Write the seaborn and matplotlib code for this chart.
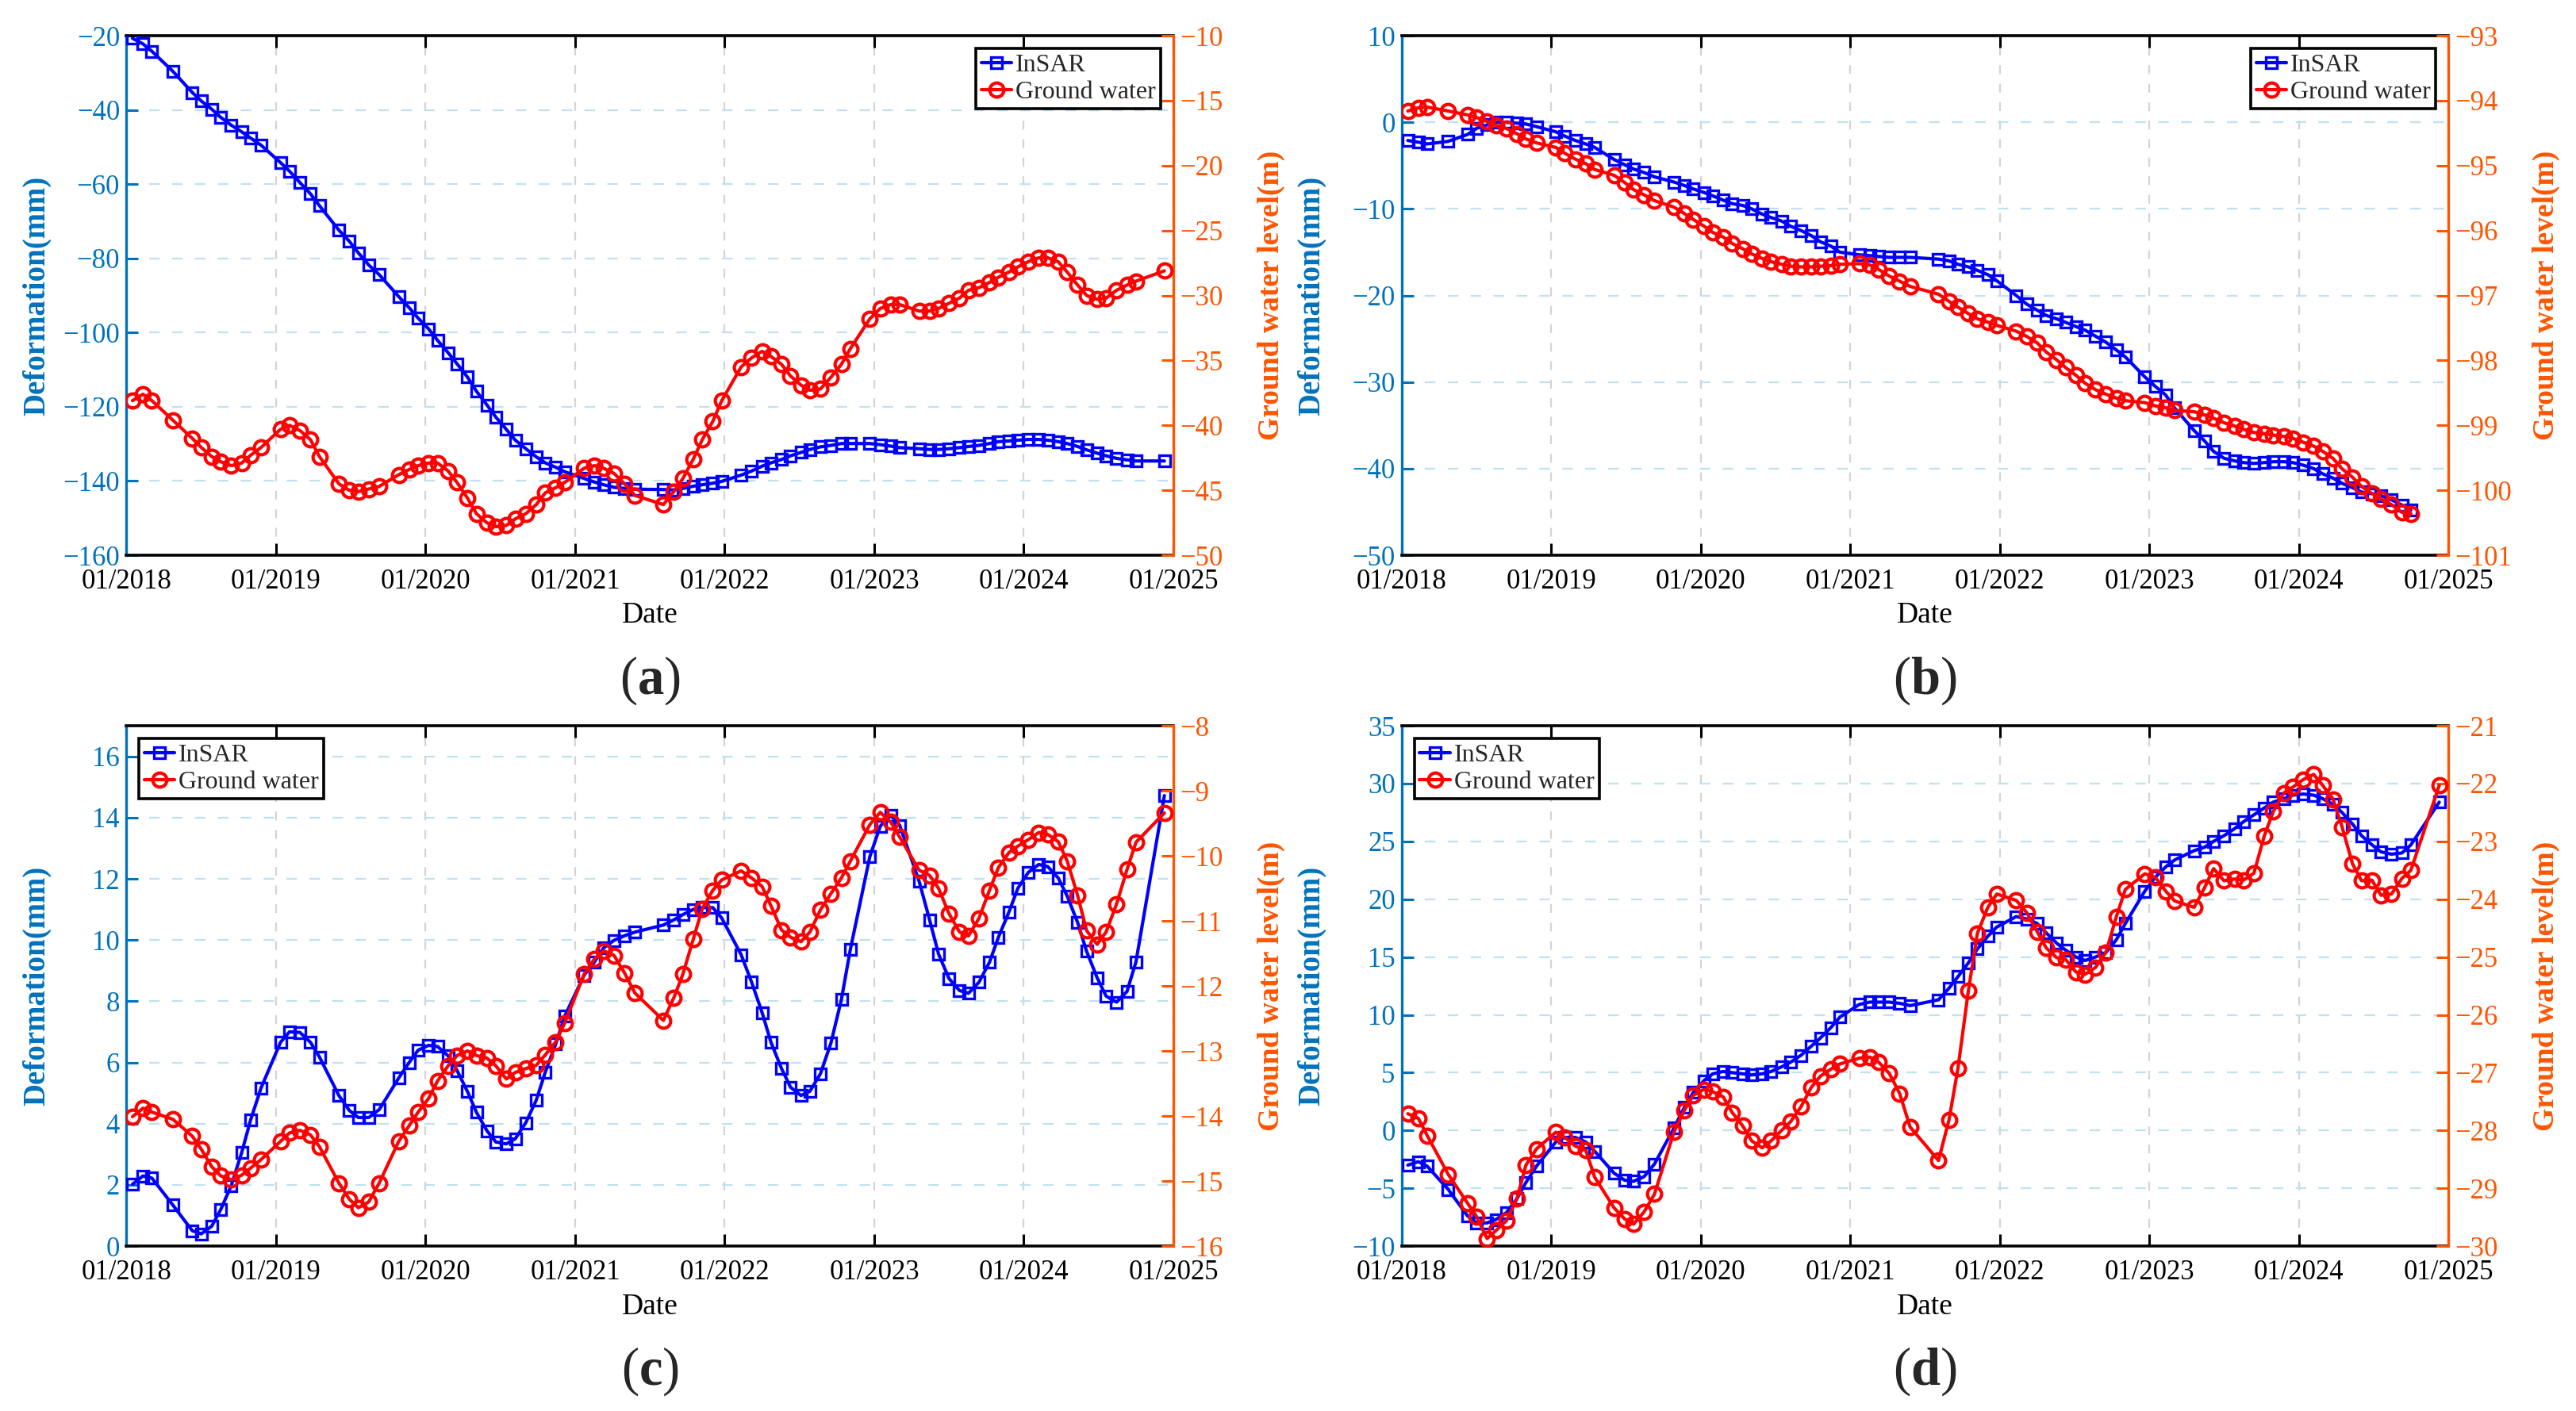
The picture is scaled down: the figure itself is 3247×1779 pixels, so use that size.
import numpy as np
import pandas as pd
import matplotlib
matplotlib.use("Agg")
import matplotlib.pyplot as plt
import seaborn as sns

# acquisition dates in decimal years (same dates for all four sites)
dec_year = [
    2018.04, 2018.11, 2018.17, 2018.31, 2018.44, 2018.50, 2018.57, 2018.63, 2018.70, 2018.77, 2018.83, 2018.90,
    2019.03, 2019.09, 2019.16, 2019.23, 2019.29, 2019.42, 2019.49, 2019.55, 2019.62, 2019.69, 2019.82, 2019.89, 2019.95,
    2020.02, 2020.08, 2020.15, 2020.21, 2020.28, 2020.34, 2020.41, 2020.47, 2020.54, 2020.60, 2020.67, 2020.74, 2020.80, 2020.87, 2020.93,
    2021.06, 2021.13, 2021.19, 2021.26, 2021.33, 2021.40, 2021.59, 2021.66, 2021.72, 2021.79, 2021.85, 2021.92, 2021.98,
    2022.11, 2022.18, 2022.25, 2022.31, 2022.38, 2022.44, 2022.51, 2022.57, 2022.64, 2022.71, 2022.78, 2022.84,
    2022.97, 2023.04, 2023.11, 2023.17, 2023.30, 2023.37, 2023.43, 2023.50, 2023.57, 2023.63, 2023.70, 2023.77, 2023.83, 2023.90, 2023.96,
    2024.03, 2024.10, 2024.16, 2024.23, 2024.29, 2024.36, 2024.42, 2024.49, 2024.55, 2024.62, 2024.69, 2024.75, 2024.94,
]

# (a)
insar_a = [
    -20.7, -22.2, -24.2, -29.6, -35.3, -37.6, -39.8, -42.0, -44.1, -45.9, -47.6, -49.5,
    -54.2, -56.5, -59.6, -62.6, -65.8, -72.4, -75.4, -78.5, -81.8, -84.4, -90.3, -93.3, -96.1,
    -99.0, -102.1, -105.4, -108.4, -112.0, -115.8, -119.5, -122.8, -126.1, -129.0, -131.3, -133.5, -135.1, -136.3, -137.5,
    -139.3, -140.3, -141.0, -141.7, -142.0, -142.2, -142.3, -142.4, -142.0, -141.4, -141.0, -140.6, -140.1,
    -138.4, -137.3, -136.0, -135.1, -134.2, -133.2, -132.3, -131.5, -130.8, -130.4, -129.9, -129.9,
    -129.9, -130.2, -130.6, -131.0, -131.3, -131.5, -131.5, -131.3, -131.0, -130.7, -130.4, -129.9, -129.4, -129.2, -129.0,
    -128.8, -128.8, -129.0, -129.4, -129.9, -130.7, -131.6, -132.5, -133.2, -133.9, -134.3, -134.6, -134.6,
]
gw_a = [
    -38.1, -37.6, -38.1, -39.6, -41.0, -41.7, -42.4, -42.8, -43.1, -42.9, -42.3, -41.7,
    -40.3, -40.0, -40.4, -41.1, -42.4, -44.5, -45.0, -45.1, -44.9, -44.7, -43.8, -43.4, -43.1,
    -42.9, -42.9, -43.5, -44.4, -45.6, -46.8, -47.5, -47.8, -47.7, -47.2, -46.8, -46.1, -45.2, -44.8, -44.4,
    -43.3, -43.1, -43.3, -43.7, -44.5, -45.4, -46.1, -45.1, -44.1, -42.6, -41.1, -39.7, -38.1,
    -35.5, -34.8, -34.3, -34.7, -35.3, -36.2, -36.9, -37.3, -37.2, -36.3, -35.3, -34.1,
    -31.8, -31.0, -30.7, -30.7, -31.2, -31.2, -31.0, -30.6, -30.2, -29.6, -29.4, -29.0, -28.6, -28.2, -27.8,
    -27.4, -27.1, -27.1, -27.4, -28.2, -29.2, -30.0, -30.3, -30.2, -29.6, -29.2, -28.9, -28.1,
]

# (b)
insar_b = [
    -2.1, -2.3, -2.5, -2.2, -1.4, -0.7, -0.3, 0.0, 0.0, -0.1, -0.2, -0.5,
    -1.1, -1.6, -2.1, -2.5, -2.9, -4.3, -4.9, -5.4, -5.8, -6.3, -6.9, -7.3, -7.7,
    -8.1, -8.5, -9.0, -9.4, -9.6, -10.0, -10.6, -11.0, -11.4, -12.0, -12.5, -13.1, -13.8, -14.3, -15.0,
    -15.3, -15.4, -15.5, -15.6, -15.6, -15.6, -15.8, -16.0, -16.4, -16.7, -17.1, -17.6, -18.3,
    -20.0, -21.0, -21.7, -22.3, -22.7, -23.1, -23.6, -24.0, -24.7, -25.4, -26.3, -27.1,
    -29.4, -30.5, -31.5, -33.0, -35.6, -36.8, -38.0, -38.8, -39.1, -39.3, -39.4, -39.3, -39.2, -39.2, -39.3,
    -39.6, -40.0, -40.6, -41.1, -41.7, -42.2, -42.7, -42.9, -43.1, -43.6, -44.2, -44.8, np.nan,
]
gw_b = [
    -94.16, -94.11, -94.10, -94.16, -94.22, -94.26, -94.32, -94.38, -94.43, -94.51, -94.59, -94.65,
    -94.72, -94.81, -94.90, -94.97, -95.06, -95.15, -95.26, -95.37, -95.45, -95.54, -95.64, -95.74, -95.83,
    -95.93, -96.03, -96.10, -96.20, -96.28, -96.36, -96.43, -96.48, -96.52, -96.55, -96.56, -96.56, -96.55, -96.54, -96.52,
    -96.51, -96.53, -96.60, -96.70, -96.78, -96.86, -96.98, -97.09, -97.18, -97.28, -97.36, -97.41, -97.46,
    -97.55, -97.63, -97.73, -97.87, -97.99, -98.11, -98.23, -98.35, -98.45, -98.52, -98.58, -98.62,
    -98.65, -98.70, -98.73, -98.77, -98.79, -98.84, -98.89, -98.96, -99.01, -99.06, -99.11, -99.13, -99.15, -99.17, -99.20,
    -99.26, -99.32, -99.40, -99.51, -99.67, -99.80, -99.94, -100.05, -100.13, -100.22, -100.34, -100.36, np.nan,
]

# (c)
insar_c = [
    2.02, 2.29, 2.22, 1.34, 0.50, 0.40, 0.65, 1.19, 1.97, 3.05, 4.12, 5.17,
    6.66, 7.00, 6.98, 6.66, 6.18, 4.92, 4.43, 4.20, 4.20, 4.46, 5.49, 6.00, 6.40,
    6.56, 6.52, 6.22, 5.74, 5.05, 4.37, 3.77, 3.40, 3.34, 3.51, 4.03, 4.77, 5.68, 6.60, 7.51,
    8.85, 9.29, 9.74, 9.99, 10.14, 10.26, 10.49, 10.66, 10.83, 11.00, 11.06, 11.06, 10.72,
    9.52, 8.62, 7.63, 6.65, 5.80, 5.19, 4.92, 5.06, 5.63, 6.63, 8.05, 9.69,
    12.72, 13.72, 14.07, 13.75, 11.92, 10.66, 9.54, 8.74, 8.35, 8.26, 8.62, 9.27, 10.09, 10.91, 11.69,
    12.21, 12.47, 12.40, 12.03, 11.44, 10.57, 9.63, 8.77, 8.17, 7.97, 8.32, 9.29, 14.72,
]
gw_c = [
    -14.01, -13.88, -13.94, -14.05, -14.31, -14.51, -14.78, -14.92, -14.98, -14.91, -14.80, -14.67,
    -14.39, -14.26, -14.22, -14.29, -14.47, -15.03, -15.28, -15.41, -15.32, -15.03, -14.39, -14.15, -13.94,
    -13.73, -13.46, -13.23, -13.07, -13.00, -13.07, -13.11, -13.23, -13.43, -13.33, -13.27, -13.22, -13.06, -12.86, -12.57,
    -11.82, -11.58, -11.46, -11.53, -11.80, -12.11, -12.53, -12.18, -11.82, -11.28, -10.81, -10.53, -10.37,
    -10.23, -10.34, -10.47, -10.77, -11.14, -11.25, -11.32, -11.17, -10.83, -10.58, -10.34, -10.08,
    -9.52, -9.33, -9.48, -9.71, -10.22, -10.30, -10.50, -10.89, -11.17, -11.23, -10.96, -10.53, -10.18, -9.95, -9.85,
    -9.75, -9.64, -9.67, -9.78, -10.08, -10.61, -11.15, -11.36, -11.17, -10.74, -10.21, -9.79, -9.34,
]

# (d)
insar_d = [
    -3.0, -2.7, -3.1, -5.1, -7.4, -8.0, -8.0, -7.7, -7.1, -5.9, -4.5, -3.1,
    -1.0, -0.6, -0.6, -1.0, -1.8, -3.7, -4.3, -4.4, -4.0, -2.9, 0.2, 2.0, 3.3,
    4.3, 4.9, 5.1, 5.0, 4.9, 4.8, 4.9, 5.1, 5.5, 5.9, 6.5, 7.3, 8.0, 8.9, 9.8,
    10.9, 11.1, 11.1, 11.1, 11.0, 10.8, 11.3, 12.3, 13.3, 14.5, 15.7, 16.8, 17.6,
    18.5, 18.3, 17.9, 17.1, 16.2, 15.6, 15.0, 14.7, 15.0, 15.4, 16.5, 17.9,
    20.7, 21.9, 22.8, 23.4, 24.2, 24.5, 25.0, 25.5, 26.1, 26.7, 27.3, 27.9, 28.4, 28.7, 29.0,
    29.1, 29.0, 28.7, 28.2, 27.5, 26.5, 25.5, 24.7, 24.1, 23.9, 24.0, 24.7, 28.4,
]
gw_d = [
    -27.71, -27.79, -28.09, -28.76, -29.26, -29.49, -29.87, -29.73, -29.56, -29.18, -28.60, -28.32,
    -28.03, -28.12, -28.27, -28.34, -28.81, -29.34, -29.53, -29.62, -29.41, -29.10, -28.03, -27.65, -27.39,
    -27.29, -27.33, -27.42, -27.69, -27.92, -28.18, -28.30, -28.18, -28.00, -27.85, -27.59, -27.25, -27.06, -26.94, -26.85,
    -26.75, -26.73, -26.82, -27.01, -27.36, -27.94, -28.52, -27.82, -26.93, -25.58, -24.59, -24.14, -23.91,
    -24.02, -24.23, -24.56, -24.84, -25.01, -25.04, -25.26, -25.30, -25.18, -24.92, -24.30, -23.83,
    -23.56, -23.62, -23.86, -24.03, -24.14, -23.80, -23.47, -23.68, -23.65, -23.67, -23.55, -22.90, -22.48, -22.16, -22.06,
    -21.93, -21.84, -22.03, -22.27, -22.75, -23.39, -23.68, -23.67, -23.93, -23.91, -23.64, -23.50, -22.03,
]

year_ticks = [2018, 2019, 2020, 2021, 2022, 2023, 2024, 2025]
year_labels = ['01/2018', '01/2019', '01/2020', '01/2021', '01/2022', '01/2023', '01/2024', '01/2025']

sns.set_style("ticks")
plt.rcParams['font.family'] = ['Liberation Serif', 'DejaVu Serif']
plt.rcParams['mathtext.fontset'] = 'custom'
plt.rcParams['mathtext.rm'] = 'Liberation Serif'
plt.rcParams['mathtext.bf'] = 'Liberation Serif:bold'

AX_BLUE = '#0072BD'
AX_ORANGE = '#FF5500'
GRID_X = '#D4D4D4'
GRID_Y = '#BFE1F2'

panels = [
    dict(tag='a', ins=insar_a, gw=gw_a, pos=[0.0491, 0.6065, 0.4064, 0.3682],
         ylim=(-160, -20), yt=np.arange(-160, -19, 20), ylim2=(-50, -10), yt2=np.arange(-50, -9, 5),
         loc='upper right'),
    dict(tag='b', ins=insar_b, gw=gw_b, pos=[0.5442, 0.6065, 0.4062, 0.3682],
         ylim=(-50, 10), yt=np.arange(-50, 11, 10), ylim2=(-101, -93), yt2=np.arange(-101, -92, 1),
         loc='upper right'),
    dict(tag='c', ins=insar_c, gw=gw_c, pos=[0.0491, 0.1169, 0.4064, 0.3687],
         ylim=(0, 17), yt=np.arange(0, 17, 2), ylim2=(-16, -8), yt2=np.arange(-16, -7, 1),
         loc='upper left'),
    dict(tag='d', ins=insar_d, gw=gw_d, pos=[0.5442, 0.1169, 0.4062, 0.3687],
         ylim=(-10, 35), yt=np.arange(-10, 36, 5), ylim2=(-30, -21), yt2=np.arange(-30, -20, 1),
         loc='upper left'),
]

fig = plt.figure(figsize=(32.47, 17.79), dpi=100)

for p in panels:
    df = pd.DataFrame({'date': dec_year, 'insar': p['ins'], 'gw': p['gw']})

    ax = fig.add_axes(p['pos'])
    sns.lineplot(data=df.dropna(subset=['insar']), x='date', y='insar', ax=ax,
                 color='#0000FF', linewidth=3.0, marker='s', markersize=9.6,
                 markerfacecolor='none', markeredgecolor='#0000FF', markeredgewidth=2.4,
                 label='InSAR', zorder=3)
    ax2 = ax.twinx()
    sns.lineplot(data=df.dropna(subset=['gw']), x='date', y='gw', ax=ax2,
                 color='#FF0000', linewidth=3.0, marker='o', markersize=12.8,
                 markerfacecolor='none', markeredgecolor='#FF0000', markeredgewidth=3.0,
                 label='Ground water', zorder=3)

    # axes limits / ticks
    ax.set_xlim(2018, 2025)
    ax.set_xticks(year_ticks)
    ax.set_xticklabels(year_labels)
    ax.set_ylim(*p['ylim'])
    ax.set_yticks(p['yt'])
    ax2.set_ylim(*p['ylim2'])
    ax2.set_yticks(p['yt2'])

    # grid (matlab-like)
    ax.set_axisbelow(True)
    ax.grid(axis='x', color=GRID_X, linestyle=(0, (5, 5.5)), linewidth=1.6)
    ax.grid(axis='y', color=GRID_Y, linestyle=(0, (6, 7)), linewidth=1.6)
    ax2.grid(False)

    # spines
    for s in ['top', 'bottom']:
        ax.spines[s].set_color('black')
        ax.spines[s].set_linewidth(2.6)
    ax.spines['left'].set_color(AX_BLUE)
    ax.spines['left'].set_linewidth(2.4)
    ax.spines['right'].set_visible(False)
    for s in ['left', 'top', 'bottom']:
        ax2.spines[s].set_visible(False)
    ax2.spines['right'].set_color(AX_ORANGE)
    ax2.spines['right'].set_linewidth(2.4)

    ax.tick_params(axis='x', direction='in', top=True, bottom=True, length=11, width=2.2,
                   color='black', labelcolor='black', labelsize=25, pad=12)
    ax.tick_params(axis='y', direction='in', left=True, right=False, length=11, width=2.2,
                   colors=AX_BLUE, labelsize=25, pad=6)
    ax2.tick_params(axis='y', direction='in', right=True, left=False, length=11, width=2.2,
                    colors=AX_ORANGE, labelsize=25, pad=6)

    # labels
    ax.set_xlabel('Date', fontsize=27, color='black')
    ax.xaxis.set_label_coords(0.5, -0.09)
    ax.set_ylabel('Deformation(mm)', fontsize=28, fontweight='bold', color=AX_BLUE)
    ax.yaxis.set_label_coords(-0.072, 0.5)
    ax2.set_ylabel('Ground water level(m)', fontsize=27, fontweight='bold', color=AX_ORANGE)
    ax2.yaxis.set_label_coords(1.08, 0.5)

    # one legend with both series
    h1, l1 = ax.get_legend_handles_labels()
    h2, l2 = ax2.get_legend_handles_labels()
    if ax.get_legend() is not None:
        ax.get_legend().remove()
    if ax2.get_legend() is not None:
        ax2.get_legend().remove()
    leg = ax2.legend(h1 + h2, l1 + l2, loc=p['loc'], fontsize=23, frameon=True, fancybox=False,
                     framealpha=1, edgecolor='black', handlelength=1.2, handletextpad=0.15,
                     borderpad=0.2, labelspacing=0.15, borderaxespad=0.5, numpoints=1)
    leg.get_frame().set_linewidth(2.6)

    # panel tag below the axes
    x0, y0, w, h = p['pos']
    fig.text(x0 + w / 2, y0 - 158 / 1779, r'($\mathbf{%s}$)' % p['tag'],
             ha='center', va='center', fontsize=48)

fig.savefig('out.png', dpi=100)
